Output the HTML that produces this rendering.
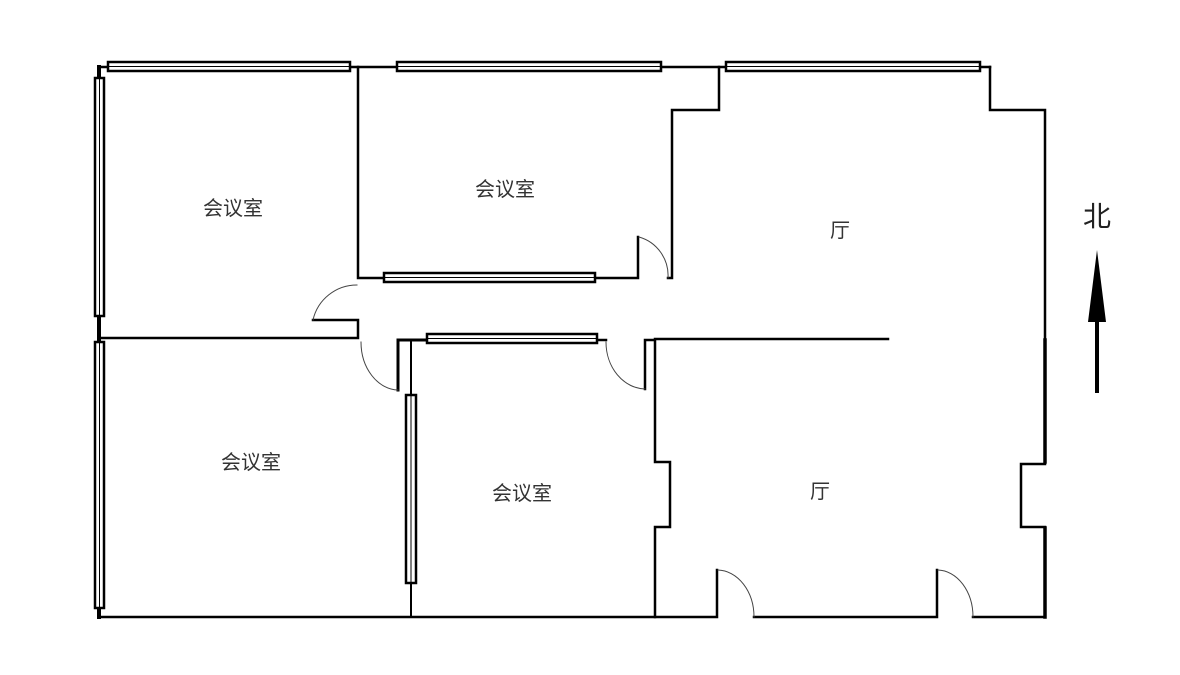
<!DOCTYPE html>
<html><head><meta charset="utf-8"><style>
html,body{margin:0;padding:0;background:#fff;}
svg{display:block;}
text{font-family:"Liberation Sans","Noto Sans CJK SC",sans-serif;fill:#333;}
</style></head><body>
<svg width="1180" height="675" viewBox="0 0 1180 675">
<g stroke="#000" fill="none" stroke-linecap="square">
<path d="M99 67 L99 617" stroke-width="4"/>
<path d="M99 67 L990 67" stroke-width="2.5"/>
<path d="M990 67 L990 110 L1045 110 L1045 464 L1021 464 L1021 527 L1045 527 L1045 617" stroke-width="2.5"/>
<path d="M1045 340 L1045 462 M1045 528 L1045 617" stroke-width="3.5"/>
<path d="M719 67 L719 110 L672 110 L672 278 L668 278" stroke-width="2.5"/>
<path d="M358 67 L358 278 L638 278 L638 237" stroke-width="2.5"/>
<path d="M99 338 L358 338 L358 320 L313 320" stroke-width="2.5"/>
<path d="M398 390 L398 340 L427 340" stroke-width="3"/>
<path d="M411 340 L411 617" stroke-width="2"/>
<path d="M597 340 L606 340" stroke-width="2.5"/>
<path d="M645 389 L645 340 L655 340 L655 462 L670 462 L670 527 L655 527 L655 617" stroke-width="2.5"/>
<path d="M655 339 L888 339" stroke-width="2.5"/>
<path d="M99 617 L717 617 L717 570 M754 617 L937 617 L937 570 M973 617 L1045 617" stroke-width="2.5"/>
<g stroke-width="1" stroke="#444">
<path d="M639 237 A40 40 0 0 1 668 278"/>
<path d="M313 320 A45 45 0 0 1 357 285"/>
<path d="M361 342 A38 48 0 0 0 398 390"/>
<path d="M606 342 A40 47 0 0 0 645 389"/>
<path d="M718 570 A37 47 0 0 1 754 617"/>
<path d="M938 570 A36 47 0 0 1 973 617"/>
</g>
</g>
<g stroke="#000" fill="#fff" stroke-width="2.5">
<rect x="108" y="62" width="242" height="9"/>
<rect x="397" y="62" width="264" height="9"/>
<rect x="726" y="62" width="254" height="9"/>
<rect x="384" y="273" width="211" height="9"/>
<rect x="427" y="334" width="170" height="9"/>
<rect x="95" y="78" width="9" height="238"/>
<rect x="95" y="342" width="9" height="266"/>
<rect x="406" y="395" width="10" height="188"/>
</g>
<g stroke="#000" stroke-width="1">
<path d="M108 66.5 H350 M397 66.5 H661 M726 66.5 H980 M384 277.5 H595 M427 338.5 H597 M99.5 78 V316 M99.5 342 V608 M411 395 V583"/>
</g>
<g font-size="20" text-anchor="middle">
<text x="233" y="215">会议室</text>
<text x="505" y="196">会议室</text>
<text x="251" y="469">会议室</text>
<text x="522" y="500">会议室</text>
<text x="840" y="237">厅</text>
<text x="820" y="498">厅</text>
</g>
<text x="1097" y="226" font-size="28" text-anchor="middle" style="fill:#222">北</text>
<path d="M1097 320 L1097 393" stroke="#000" stroke-width="4"/>
<path d="M1097 250 L1088 322 L1106 322 Z" fill="#000"/>
</svg>
</body></html>
